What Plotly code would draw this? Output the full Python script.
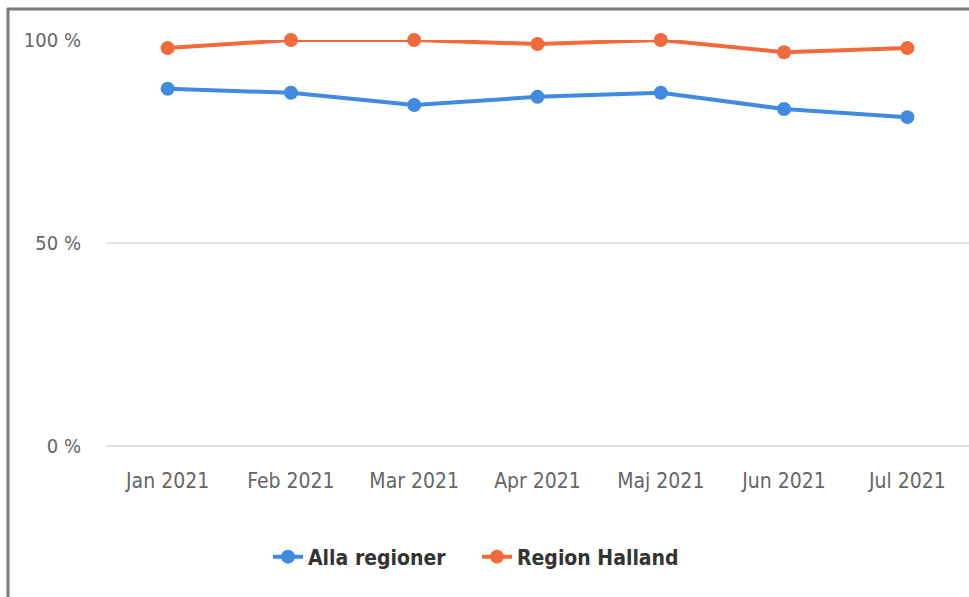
import plotly.graph_objects as go

months = ["Jan 2021", "Feb 2021", "Mar 2021", "Apr 2021", "Maj 2021", "Jun 2021", "Jul 2021"]
alla_regioner = [88, 87, 84, 86, 87, 83, 81]
region_halland = [98, 100, 100, 99, 100, 97, 98]
y_ticks = [0, 50, 100]
y_tick_labels = ["0 %", "50 %", "100 %"]

W, H = 969, 597
L, R, T, B = 106, 0, 40, 151

fig = go.Figure()
fig.add_trace(go.Scatter(
    x=months, y=alla_regioner, name="Alla regioner", mode="lines+markers",
    line=dict(color="#418ae2", width=4), marker=dict(size=14, color="#418ae2"),
    cliponaxis=False,
))
fig.add_trace(go.Scatter(
    x=months, y=region_halland, name="Region Halland", mode="lines+markers",
    line=dict(color="#f26a3b", width=4), marker=dict(size=14, color="#f26a3b"),
    cliponaxis=False,
))

pw = W - L - R
ph = H - T - B
def px(x):
    return (x - L) / pw
def py(y):
    return (H - B - y) / ph

tick_font = "DejaVu Sans Condensed, sans-serif"

fig.update_layout(
    width=W, height=H,
    margin=dict(l=L, r=R, t=T, b=B),
    paper_bgcolor="white", plot_bgcolor="white",
    font=dict(family=tick_font, color="#666666"),
    showlegend=True,
    legend=dict(
        orientation="h", x=px(268), xanchor="left", y=py(557), yanchor="middle",
        font=dict(size=21, color="#333333", family=tick_font, weight="bold"),
        entrywidth=164, entrywidthmode="pixels", bgcolor="rgba(0,0,0,0)",
    ),
    xaxis=dict(
        type="category", range=[-0.5, 6.5], showgrid=False, zeroline=False,
        showline=False, ticks="", tickfont=dict(size=21, color="#666666"),
        ticklabelstandoff=20,
    ),
    yaxis=dict(
        range=[0, 100], tickvals=y_ticks, ticktext=y_tick_labels,
        showgrid=True, gridcolor="#e6e6e6", gridwidth=2,
        zeroline=True, zerolinecolor="#e2e2e2", zerolinewidth=2,
        showline=False, ticks="", tickfont=dict(size=20, color="#666666"),
        ticklabelstandoff=24,
    ),
    shapes=[
        dict(type="line", xref="paper", yref="paper", x0=px(8), x1=px(8), y0=py(8), y1=py(597),
             line=dict(color="#7a7a7a", width=3)),
        dict(type="line", xref="paper", yref="paper", x0=px(7), x1=px(969), y0=py(9), y1=py(9),
             line=dict(color="#7a7a7a", width=3)),
    ],
)

fig.write_html("out.html")
